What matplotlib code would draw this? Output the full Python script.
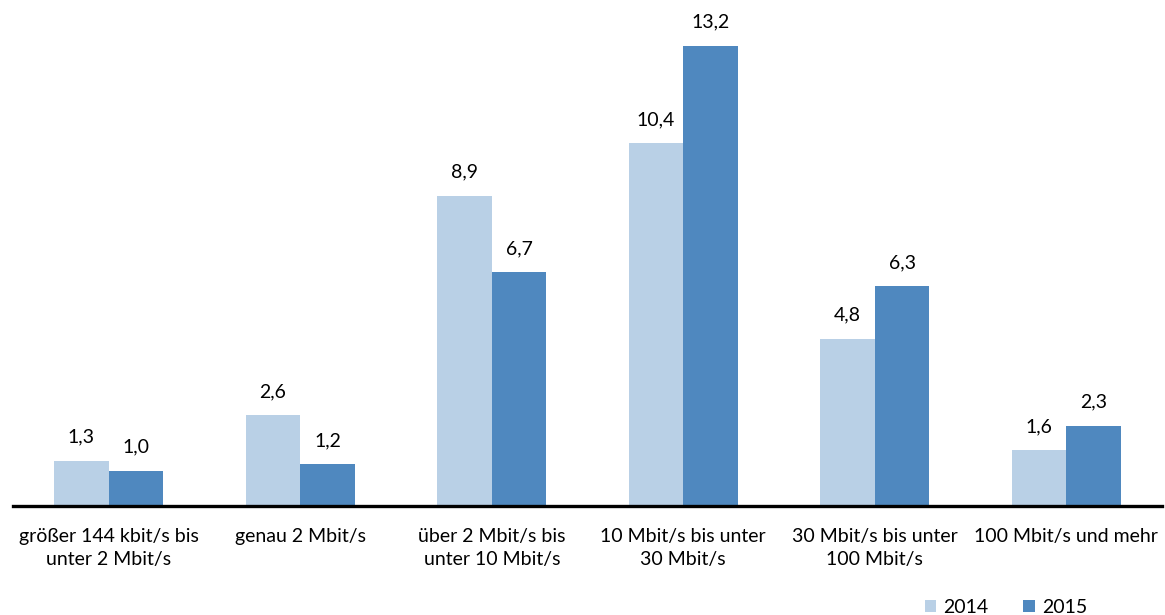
import matplotlib
matplotlib.use("Agg")
import matplotlib.pyplot as plt
import numpy as np

categories = ["größer 144 kbit/s bis\nunter 2 Mbit/s", "genau 2 Mbit/s",
              "über 2 Mbit/s bis\nunter 10 Mbit/s", "10 Mbit/s bis unter\n30 Mbit/s",
              "30 Mbit/s bis unter\n100 Mbit/s", "100 Mbit/s und mehr"]
values_2014 = [1.3, 2.6, 8.9, 10.4, 4.8, 1.6]
values_2015 = [1.0, 1.2, 6.7, 13.2, 6.3, 2.3]
series_labels = ["2014", "2015"]

plt.rcParams['font.family'] = ['Lato', 'DejaVu Sans']
fs = 14

fig = plt.figure(figsize=(11.65, 6.15), dpi=100)
ax = fig.add_axes([13/1165, 109/615, (1162-13)/1165, (506-18)/615])

x = np.arange(len(categories))
w = 0.285
c1, c2 = "#B9D0E6", "#4F88BF"
b1 = ax.bar(x - w/2, values_2014, w, color=c1, label=series_labels[0])
b2 = ax.bar(x + w/2, values_2015, w, color=c2, label=series_labels[1])

for bars, vals in ((b1, values_2014), (b2, values_2015)):
    for r, v in zip(bars, vals):
        ax.annotate(f"{v:.1f}".replace(".", ","), (r.get_x() + r.get_width()/2, v),
                    xytext=(0, 11), textcoords="offset points",
                    ha="center", va="bottom", fontsize=fs, color="#000000")

ax.set_xlim(-0.5, 5.5)
ax.set_ylim(0, 14)
ax.set_yticks([])
ax.set_xticks(x)
ax.set_xticklabels(categories, fontsize=fs, linespacing=1.42, color="#000000")
ax.tick_params(axis="x", length=0, pad=16)
for s in ("top", "right", "left"):
    ax.spines[s].set_visible(False)
ax.spines["bottom"].set_linewidth(2.4)
ax.spines["bottom"].set_color("black")

fig.legend(handles=[b1, b2], labels=series_labels, loc="lower right",
           bbox_to_anchor=(0.948, -0.03), ncol=2, frameon=False, fontsize=fs,
           handlelength=0.6, handleheight=0.6, handletextpad=0.35, columnspacing=1.8)

fig.savefig("out.png", dpi=100)
